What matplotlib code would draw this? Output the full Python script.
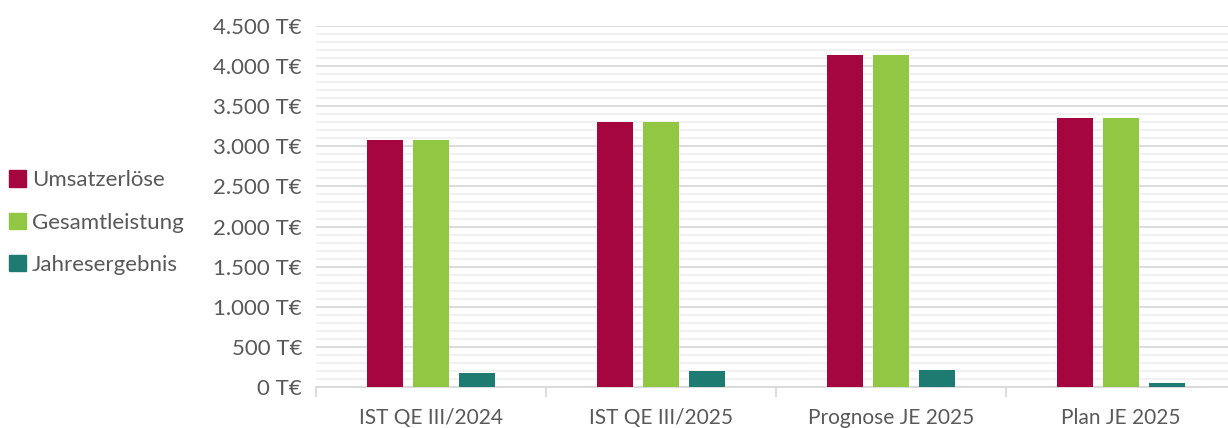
import matplotlib.pyplot as plt
import numpy as np
from matplotlib.ticker import MultipleLocator, FuncFormatter
from matplotlib.patches import Patch

categories = ['IST QE III/2024', 'IST QE III/2025', 'Prognose JE 2025', 'Plan JE 2025']
umsatz = [3080, 3300, 4140, 3350]
gesamt = [3080, 3300, 4140, 3350]
jahres = [175, 200, 212, 50]

series = ['Umsatzerlöse', 'Gesamtleistung', 'Jahresergebnis']
colors = ['#A50640', '#92C743', '#1E7B72']
text_color = '#595959'

plt.rcParams['font.family'] = ['Lato', 'DejaVu Sans']

fig = plt.figure(figsize=(12.28, 4.28), dpi=100)
ax = fig.add_axes([316 / 1228, 41 / 428, 912 / 1228, 361 / 428])

x = np.arange(len(categories))
w = 0.16
for i, vals in enumerate([umsatz, gesamt, jahres]):
    ax.bar(x + (i - 1) * 0.2, vals, w, color=colors[i], zorder=3)

ax.set_ylim(0, 4500)
ax.set_xlim(-0.5, 3.465)
ax.yaxis.set_major_locator(MultipleLocator(500))
ax.yaxis.set_minor_locator(MultipleLocator(100))
ax.yaxis.set_major_formatter(FuncFormatter(lambda v, p: f'{int(v):,} T€'.replace(',', '.')))
ax.grid(axis='y', which='major', color='#d9d9d9', lw=1.3, zorder=0)
ax.grid(axis='y', which='minor', color='#f0f0f0', lw=1.3, zorder=0)
ax.tick_params(axis='y', which='both', length=0, labelsize=16, labelcolor=text_color, pad=10)

ax.set_xticks(x)
ax.set_xticklabels(categories)
ax.set_xticks(np.arange(-0.5, 3.5, 1), minor=True)
ax.tick_params(axis='x', which='major', length=0, labelsize=15, labelcolor=text_color, pad=15)
ax.tick_params(axis='x', which='minor', length=7, color='#d9d9d9', width=1.3)

for s in ['top', 'right', 'left']:
    ax.spines[s].set_visible(False)
ax.spines['bottom'].set_color('#d9d9d9')
ax.spines['bottom'].set_linewidth(1.3)

handles = [Patch(color=c, label=l) for c, l in zip(colors, series)]
fig.legend(handles=handles, loc='center left', bbox_to_anchor=(0.0, 0.48),
           frameon=False, fontsize=16, labelcolor=text_color, borderaxespad=0.0,
           handlelength=0.75, handleheight=0.75, handletextpad=0.3, labelspacing=1.0)

fig.savefig('out.png', dpi=100)
